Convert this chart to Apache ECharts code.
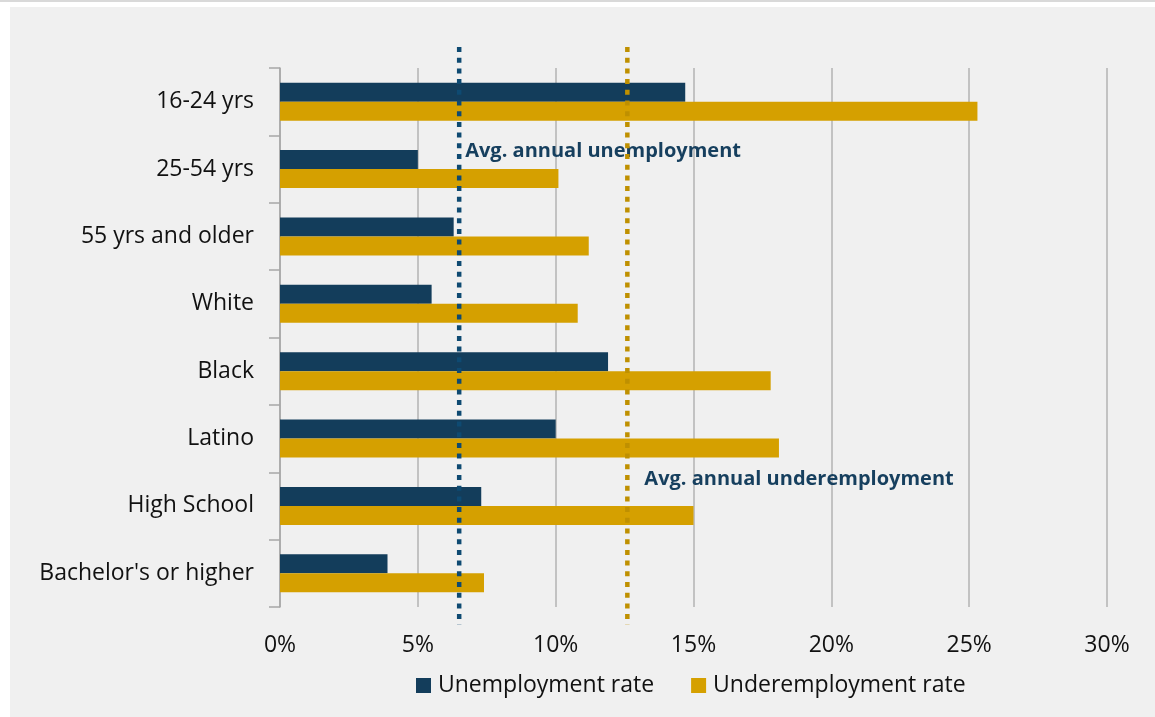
<!DOCTYPE html>
<html><head><meta charset="utf-8">
<script src="https://cdn.jsdelivr.net/npm/echarts@6/dist/echarts.min.js"></script>
<style>
html,body{margin:0;padding:0;background:#ffffff;width:1155px;height:717px;overflow:hidden;}
#topline{position:absolute;left:0;top:0;width:1155px;height:2px;background:#d9d9d9;}
#chart{position:absolute;left:10px;top:7px;width:1145px;height:710px;background:#f0f0f0;}
</style></head>
<body>
<div id="topline"></div>
<div id="chart"></div>
<script>
var categories = ["16-24 yrs","25-54 yrs","55 yrs and older","White","Black","Latino","High School","Bachelor's or higher"];
var unemploymentRate = [14.7, 5.0, 6.3, 5.5, 11.9, 10.0, 7.3, 3.9];
var underemploymentRate = [25.3, 10.1, 11.2, 10.8, 17.8, 18.1, 15.0, 7.4];
var avgUnemployment = 6.5;
var avgUnderemployment = 12.6;
var xTicks = [0, 5, 10, 15, 20, 25, 30];
var seriesNames = ["Unemployment rate", "Underemployment rate"];
var avgLabels = ["Avg. annual unemployment", "Avg. annual underemployment"];
// category next to which each average label sits
var avgLabelCategory = ["25-54 yrs", "High School"];

var FONT = "Open Sans";
var chart = echarts.init(document.getElementById('chart'), null, {renderer:'canvas'});

// styling for the two average lines (colour, label offset in px)
var avgStyles = [
  {color:'#0e4a72', dx:6, dy:-18},
  {color:'#bf9000', dx:17, dy:-27}
];
var avgData = [
  {value:[avgUnemployment, avgLabelCategory[0]], label:avgLabels[0]},
  {value:[avgUnderemployment, avgLabelCategory[1]], label:avgLabels[1]}
];

chart.setOption({
  animation:false,
  backgroundColor:'#f0f0f0',
  textStyle:{fontFamily:FONT},
  grid:{left:270, right:48, top:61, bottom:110, containLabel:false},
  legend:{
    data:seriesNames, bottom:15, left:401, itemWidth:15, itemHeight:15, itemGap:37,
    icon:'rect',
    textStyle:{fontFamily:FONT, fontSize:23, color:'#111', padding:[0,0,0,2]}
  },
  xAxis:{
    type:'value', min:xTicks[0], max:xTicks[xTicks.length-1], interval:5,
    axisLine:{show:false}, axisTick:{show:false},
    axisLabel:{formatter:'{value}%', fontSize:23, color:'#111', margin:27, fontFamily:FONT},
    splitLine:{show:true, lineStyle:{color:'#b3b3b3', width:1.5}}
  },
  yAxis:{
    type:'category', data:categories, inverse:true,
    axisLine:{show:true, lineStyle:{color:'#a6a6a6', width:1.5}},
    axisTick:{show:true, length:11, lineStyle:{color:'#a6a6a6', width:1.5}},
    axisLabel:{fontSize:23, color:'#111', margin:26, fontFamily:FONT, padding:[6,0,0,0]}
  },
  series:[
    {name:seriesNames[0], type:'bar', data:unemploymentRate, barWidth:19, barGap:'0%',
     itemStyle:{color:'#133d5b'}},
    {name:seriesNames[1], type:'bar', data:underemploymentRate, barWidth:19, barGap:'0%',
     itemStyle:{color:'#d5a000'}},
    {type:'custom', clip:false, z:10, silent:true,
     data:avgData,
     encode:{x:0, y:1},
     renderItem:function(params, api){
       var i = params.dataIndex;
       var d = avgData[i], s = avgStyles[i];
       var p = api.coord([api.value(0), api.value(1)]);
       var cs = params.coordSys;
       return {type:'group', children:[
         {type:'line', shape:{x1:p[0], y1:cs.y-21, x2:p[0], y2:cs.y+cs.height+18},
          style:{stroke:s.color, lineWidth:4.5, lineDash:[5,5.7]}},
         {type:'text', x:p[0]+s.dx, y:p[1]+s.dy,
          style:{text:d.label, fill:'#163f5e', font:'bold 20px '+FONT, verticalAlign:'middle', align:'left'}}
       ]};
     }}
  ]
});
</script>
</body></html>
